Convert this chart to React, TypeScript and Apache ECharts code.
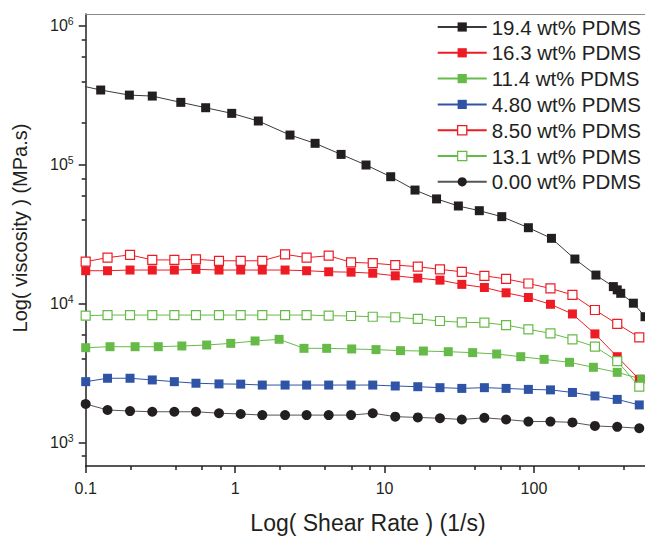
import React, { useEffect, useRef } from 'react';
import * as echarts from 'echarts';

// ---- data ----
const shearRate = [0.1, 0.14, 0.198, 0.279, 0.392, 0.547, 0.78, 1.09, 1.52, 2.16, 3.01, 4.23, 5.97, 8.34, 11.8, 16.7, 23.5, 32.9, 46.6, 65.1, 91.8, 129, 181, 256, 361, 507];

const shear194 = [0.085, 0.126, 0.196, 0.279, 0.433, 0.635, 0.949, 1.43, 2.33, 3.43, 5.12, 7.52, 11.0, 16.0, 22.3, 31.2, 43.1, 60.9, 91.8, 131, 188, 260, 340, 361, 381, 463, 554];
const visc194 = [380000, 346000, 318000, 313000, 282000, 258000, 235000, 207000, 164000, 143000, 119000, 99800, 82200, 65900, 56900, 50600, 46800, 42400, 35300, 29600, 21000, 16100, 13300, 12600, 11900, 10100, 8070];

const visc163 = [17300, 17300, 17500, 17500, 17500, 17700, 17500, 17500, 17500, 17500, 17300, 17000, 16900, 16600, 15900, 15300, 14800, 13800, 13100, 12000, 11100, 9920, 8450, 6070, 4160, 2860];

const shear114 = [0.1, 0.1455, 0.214, 0.306, 0.44, 0.645, 0.935, 1.36, 1.97, 2.89, 4.1, 6.03, 8.77, 12.8, 18.2, 26.7, 38.9, 56.3, 81.6, 117, 173, 250, 361, 526];
const visc114 = [4830, 4910, 4910, 4910, 4970, 5050, 5190, 5400, 5550, 4780, 4780, 4730, 4680, 4600, 4570, 4520, 4450, 4350, 4160, 3980, 3790, 3490, 3210, 2870];

const visc480 = [2750, 2910, 2910, 2830, 2750, 2680, 2650, 2640, 2600, 2600, 2600, 2600, 2600, 2600, 2560, 2530, 2490, 2460, 2490, 2460, 2420, 2400, 2300, 2170, 2050, 1870];

const visc850 = [20100, 21500, 22500, 20700, 20700, 20900, 20400, 20400, 20400, 22700, 21500, 22200, 19900, 19600, 19000, 18500, 17700, 17000, 15900, 15100, 14000, 12900, 11600, 9020, 7160, 5740];

const visc131 = [8210, 8300, 8300, 8300, 8300, 8300, 8300, 8300, 8300, 8300, 8300, 8210, 8170, 8070, 8000, 7780, 7520, 7360, 7310, 7030, 6550, 6130, 5550, 4910, 3870, 2530];

const visc000 = [1900, 1720, 1690, 1670, 1670, 1670, 1630, 1610, 1580, 1580, 1580, 1580, 1580, 1630, 1540, 1520, 1500, 1470, 1510, 1470, 1420, 1420, 1400, 1320, 1300, 1270];

const xMajorTicks = [0.1, 1, 10, 100];
const xMinorTicks = [0.2, 0.4, 0.6, 0.8, 2, 4, 6, 8, 20, 40, 60, 80, 200, 400];
const yMajorTicks = [1000, 10000, 100000, 1000000];
const yMinorTicks = [800, 2000, 4000, 6000, 8000, 20000, 40000, 60000, 80000, 200000, 400000, 600000, 800000];

const X_MIN = 0.1;
const X_MAX = 600;
const Y_MIN = 679.6;
const Y_MAX = 1220000;

const xTitle = 'Log( Shear Rate ) (1/s)';
const yTitle = 'Log( viscosity ) (MPa.s)';

const FONT = '"Liberation Sans", Arial, Helvetica, sans-serif';
const TEXT = '#231f20';
const BLACK = '#231f20';
const RED = '#ed1c24';
const GREEN = '#66bb48';
const BLUE = '#2f54a5';

type Def = { name: string; xs: number[]; ys: number[]; color: string; line: string; kind: 'fill' | 'empty' | 'circle' };

const defs: Def[] = [
  { name: '19.4 wt% PDMS', xs: shear194, ys: visc194, color: BLACK, line: '#3a3a3a', kind: 'fill' },
  { name: '16.3 wt% PDMS', xs: shearRate, ys: visc163, color: RED, line: RED, kind: 'fill' },
  { name: '11.4 wt% PDMS', xs: shear114, ys: visc114, color: GREEN, line: GREEN, kind: 'fill' },
  { name: '4.80 wt% PDMS', xs: shearRate, ys: visc480, color: BLUE, line: BLUE, kind: 'fill' },
  { name: '8.50 wt% PDMS', xs: shearRate, ys: visc850, color: RED, line: RED, kind: 'empty' },
  { name: '13.1 wt% PDMS', xs: shearRate, ys: visc131, color: GREEN, line: GREEN, kind: 'empty' },
  { name: '0.00 wt% PDMS', xs: shearRate, ys: visc000, color: BLACK, line: '#555555', kind: 'circle' },
];

export default function App() {
  const ref = useRef<HTMLDivElement>(null);

  useEffect(() => {
    if (!ref.current) return;
    const chart = echarts.init(ref.current, null, { renderer: 'svg' });

    const axisLine = { show: true, lineStyle: { color: BLACK, width: 1.5 } };
    const xBase = { type: 'log', logBase: 10, min: X_MIN, max: X_MAX, gridIndex: 0, splitLine: { show: false } };
    const yBase = { type: 'log', logBase: 10, min: Y_MIN, max: Y_MAX, gridIndex: 0, splitLine: { show: false } };

    const series = defs.map((d) => {
      const itemStyle =
        d.kind === 'empty'
          ? { color: '#ffffff', borderColor: d.color, borderWidth: 1.2 }
          : { color: d.color, borderWidth: 0 };
      return {
        type: 'line',
        name: d.name,
        xAxisIndex: 0,
        yAxisIndex: 0,
        data: d.xs.map((x, i) => [x, d.ys[i]]),
        symbol: d.kind === 'circle' ? 'circle' : 'rect',
        symbolSize: d.kind === 'circle' ? 10 : 9,
        showAllSymbol: true,
        lineStyle: { color: d.line, width: 1 },
        itemStyle,
        emphasis: { disabled: true },
        clip: true,
      };
    });

    const option: any = {
      animation: false,
      backgroundColor: '#ffffff',
      textStyle: { fontFamily: FONT },
      grid: { left: 85.7, top: 14, right: 9.8, bottom: 70, outerBoundsMode: 'none', containLabel: false },
      legend: {
        orient: 'vertical',
        left: 436.7,
        top: 16.5,
        padding: 0,
        itemWidth: 49,
        itemHeight: 11.5,
        itemGap: 4.8,
        selectedMode: false,
        textStyle: { fontSize: 20.5, color: TEXT, fontFamily: FONT, lineHeight: 20 },
        data: defs.map((d) =>
          d.kind === 'empty' ? { name: d.name, itemStyle: { borderWidth: 1.3 } } : { name: d.name }
        ),
      },
      xAxis: [
        {
          ...xBase,
          position: 'bottom',
          axisLine,
          axisTick: { show: true, inside: false, length: 7, lineStyle: { color: BLACK, width: 1.5 }, customValues: xMajorTicks },
          axisLabel: {
            show: true,
            customValues: xMajorTicks,
            margin: 14,
            fontSize: 16,
            color: TEXT,
            fontFamily: FONT,
            formatter: (v: number) => (v < 0.5 ? '0.1' : String(Math.round(v))),
          },
          name: xTitle,
          nameLocation: 'middle',
          nameGap: 45,
          nameTextStyle: { fontSize: 23, color: TEXT, fontFamily: FONT },
        },
        {
          ...xBase,
          position: 'bottom',
          axisLine: { show: false },
          axisTick: { show: true, inside: false, length: 4, lineStyle: { color: BLACK, width: 1.5 }, customValues: xMinorTicks },
          axisLabel: { show: false },
        },
        {
          ...xBase,
          position: 'top',
          axisLine: { show: true, lineStyle: { color: '#8a8a8a', width: 1.2 } },
          axisTick: { show: false },
          axisLabel: { show: false },
        },
      ],
      yAxis: [
        {
          ...yBase,
          position: 'left',
          axisLine,
          axisTick: { show: true, inside: false, length: 7, lineStyle: { color: BLACK, width: 1.5 }, customValues: yMajorTicks },
          axisLabel: {
            show: true,
            customValues: yMajorTicks,
            margin: 12,
            color: TEXT,
            fontFamily: FONT,
            formatter: (v: number) => `{b|10}{s|${Math.round(Math.log10(v))}}`,
            rich: {
              b: { fontSize: 16, lineHeight: 20, color: TEXT, fontFamily: FONT },
              s: { fontSize: 10.5, lineHeight: 11, verticalAlign: 'top', color: TEXT, fontFamily: FONT },
            },
          },
        },
        {
          ...yBase,
          position: 'left',
          axisLine: { show: false },
          axisTick: { show: true, inside: false, length: 4, lineStyle: { color: BLACK, width: 1.5 }, customValues: yMinorTicks },
          axisLabel: { show: false },
        },
      ],
      graphic: [
        {
          type: 'text',
          x: 20,
          y: 228,
          rotation: Math.PI / 2,
          style: {
            text: yTitle,
            fontSize: 20,
            fontFamily: FONT,
            fill: TEXT,
            align: 'center',
            verticalAlign: 'middle',
          },
        },
      ],
      series,
    };

    chart.setOption(option);
    return () => chart.dispose();
  }, []);

  return (
    <div style={{ position: 'fixed', left: 0, top: 0, width: 645, height: 536, overflow: 'hidden', background: '#fff' }}>
      <div ref={ref} style={{ width: 660, height: 536 }} />
    </div>
  );
}
